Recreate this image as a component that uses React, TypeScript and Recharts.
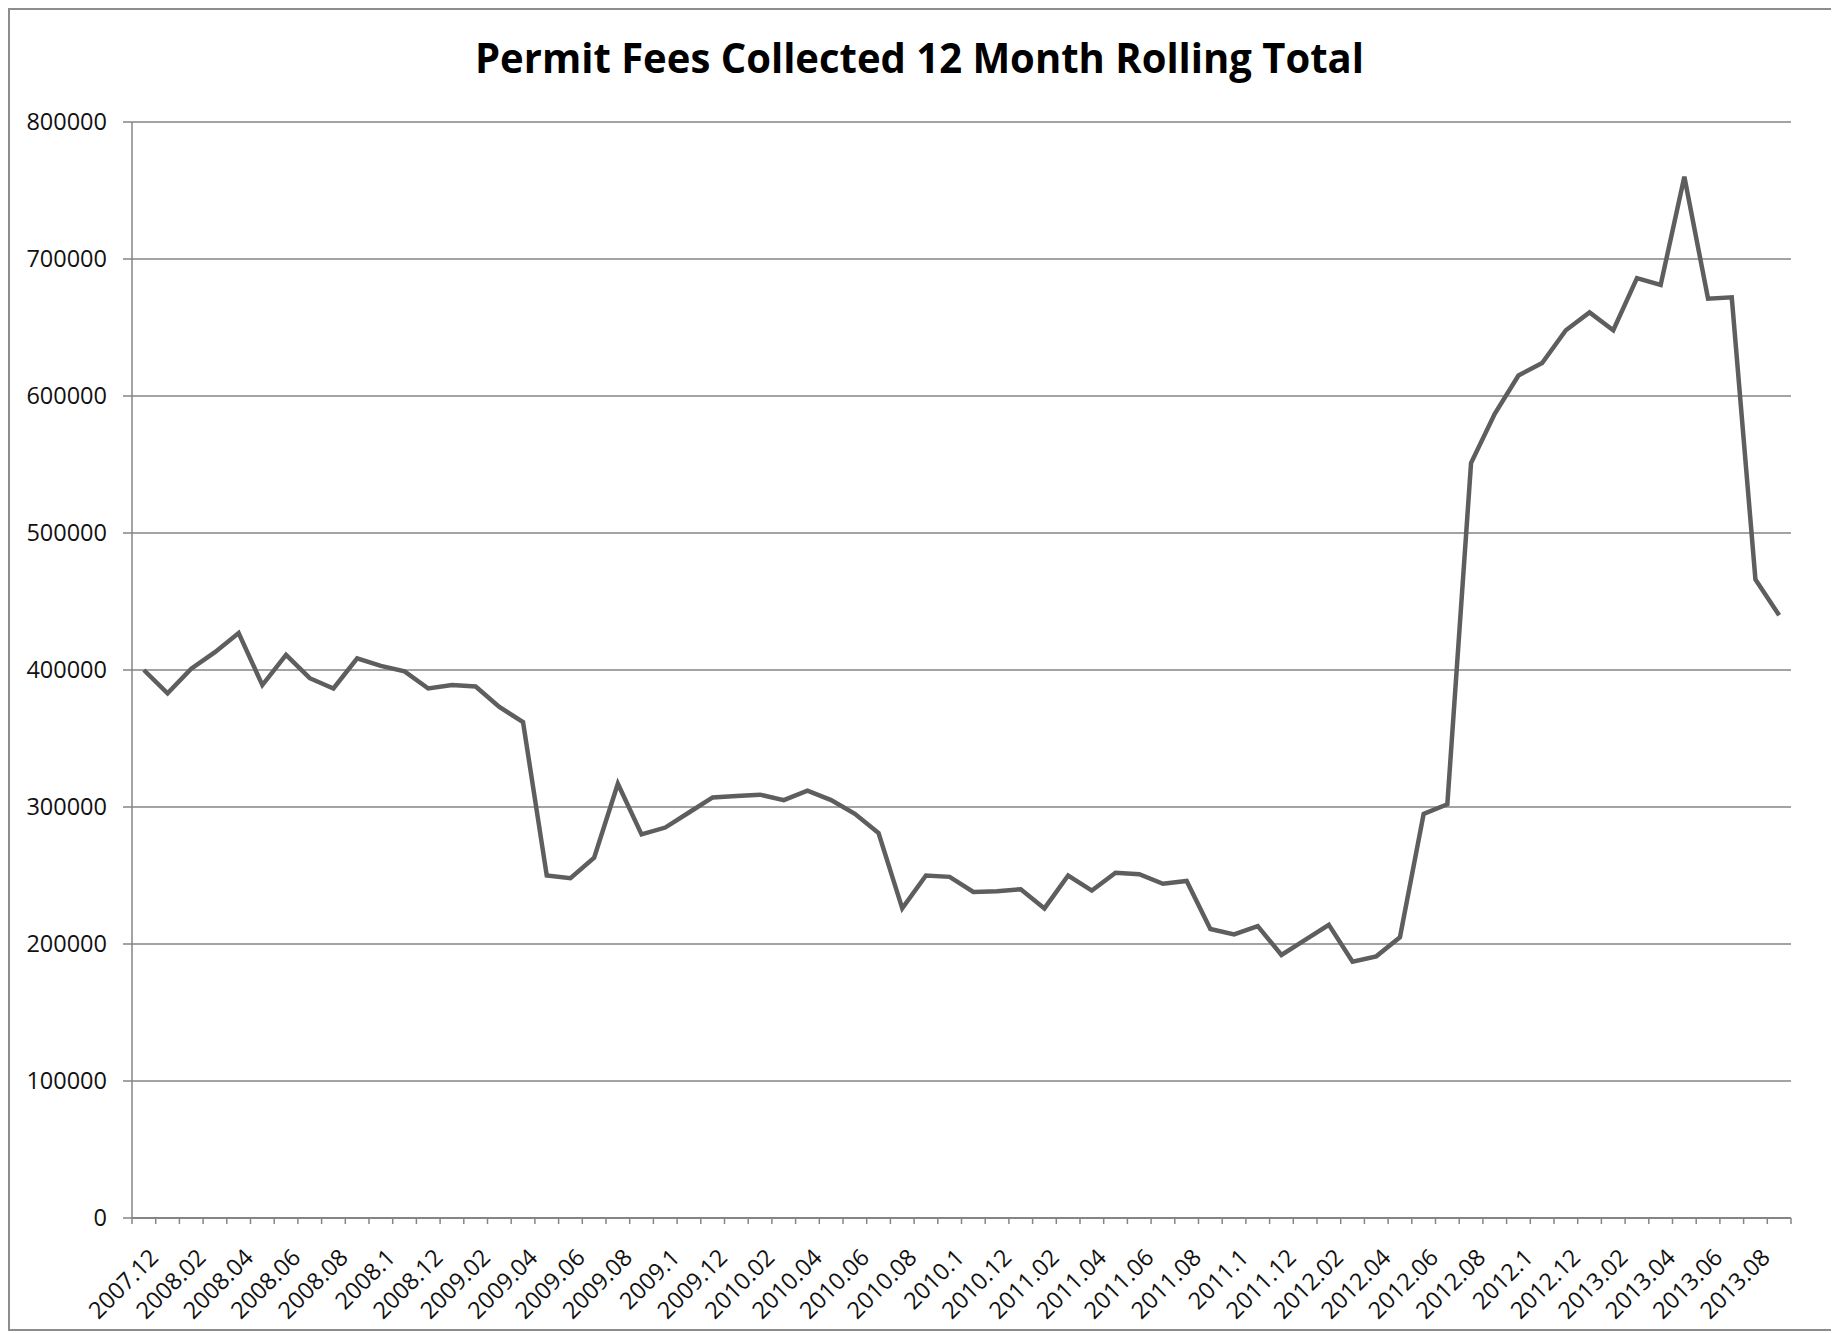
import React from 'react';
import { LineChart, Line, XAxis, YAxis, CartesianGrid } from 'recharts';

const title = 'Permit Fees Collected 12 Month Rolling Total';

const categories = [
  '2007.12',
  '2008.01', '2008.02', '2008.03', '2008.04', '2008.05', '2008.06', '2008.07', '2008.08', '2008.09', '2008.1', '2008.11', '2008.12',
  '2009.01', '2009.02', '2009.03', '2009.04', '2009.05', '2009.06', '2009.07', '2009.08', '2009.09', '2009.1', '2009.11', '2009.12',
  '2010.01', '2010.02', '2010.03', '2010.04', '2010.05', '2010.06', '2010.07', '2010.08', '2010.09', '2010.1', '2010.11', '2010.12',
  '2011.01', '2011.02', '2011.03', '2011.04', '2011.05', '2011.06', '2011.07', '2011.08', '2011.09', '2011.1', '2011.11', '2011.12',
  '2012.01', '2012.02', '2012.03', '2012.04', '2012.05', '2012.06', '2012.07', '2012.08', '2012.09', '2012.1', '2012.11', '2012.12',
  '2013.01', '2013.02', '2013.03', '2013.04', '2013.05', '2013.06', '2013.07', '2013.08', '2013.09',
];

const fees = [
  400000,
  383000, 401000, 413000, 427000, 389000, 411000, 394000, 386500, 408500, 403000, 399000, 386500,
  389000, 388000, 373000, 362000, 250000, 248000, 263000, 317000, 280000, 285000, 296000, 307000,
  308000, 309000, 305000, 312000, 305000, 295000, 281000, 226000, 250000, 249000, 238000, 238500,
  240000, 226000, 250000, 239000, 252000, 251000, 244000, 246000, 211000, 207000, 213000, 192000,
  203000, 214000, 187000, 191000, 205000, 295000, 302000, 551000, 587000, 615000, 624000, 648000,
  661000, 648000, 686000, 681000, 760000, 671000, 672000, 466000, 440000,
];

const yTicks = [0, 100000, 200000, 300000, 400000, 500000, 600000, 700000, 800000];

const data = categories.map((month, i) => ({ month, fees: fees[i] }));

const W = 1821;
const H = 1319;
const margin = { top: 112, right: 40, bottom: 11, left: 22 };
const yAxisWidth = 100;
const xAxisHeight = 100;
const plotWidth = W - margin.left - yAxisWidth - margin.right;
const band = plotWidth / categories.length;
const xTickSize = 6;
const xTickMargin = 0;

const FONT = '"Open Sans", "DejaVu Sans", sans-serif';
const GRID = '#858585';

const XTick = (props: any) => {
  const { x, y, payload } = props;
  const i = payload && payload.index !== undefined ? payload.index : props.index;
  const axisY = y - xTickSize - xTickMargin;
  const half = band / 2;
  return (
    <g>
      <line x1={x - half} x2={x - half} y1={axisY} y2={axisY + xTickSize} stroke={GRID} strokeWidth={1.5} />
      {i === categories.length - 1 && (
        <line x1={x + half} x2={x + half} y1={axisY} y2={axisY + xTickSize} stroke={GRID} strokeWidth={1.5} />
      )}
      {i % 2 === 0 && (
        <text
          transform={`translate(${x + 16},${axisY + 41}) rotate(-45)`}
          textAnchor="end"
          fontFamily={FONT}
          fontSize={23.5}
          fill="#111"
        >
          {payload.value}
        </text>
      )}
    </g>
  );
};

export default function App() {
  return (
    <div
      style={{
        position: 'relative',
        width: W,
        height: H,
        border: '2px solid #8d8d8d',
        background: '#fff',
      }}
    >
      <LineChart width={W} height={H} data={data} margin={margin}>
        <CartesianGrid horizontal={true} vertical={false} stroke={GRID} strokeWidth={1.5} />
        <XAxis
          dataKey="month"
          interval={0}
          height={xAxisHeight}
          padding={{ left: band / 2, right: band / 2 }}
          tickSize={xTickSize}
          tickMargin={xTickMargin}
          tickLine={false}
          axisLine={{ stroke: GRID, strokeWidth: 2 }}
          tick={<XTick />}
        />
        <YAxis
          domain={[0, 800000]}
          ticks={yTicks}
          interval={0}
          width={yAxisWidth}
          tickSize={9}
          tickMargin={16}
          axisLine={{ stroke: GRID, strokeWidth: 1.5 }}
          tickLine={{ stroke: GRID, strokeWidth: 1.5 }}
          tick={{ fontFamily: FONT, fontSize: 23.5, fill: '#111' }}
        />
        <Line
          type="linear"
          dataKey="fees"
          stroke="#5e5e5e"
          strokeWidth={4.5}
          dot={false}
          isAnimationActive={false}
        />
      </LineChart>
      <svg
        width={W}
        height={110}
        style={{ position: 'absolute', left: 0, top: 0, pointerEvents: 'none' }}
      >
        <text
          x={909.5}
          y={62.7}
          textAnchor="middle"
          fontFamily={FONT}
          fontWeight="bold"
          fontSize={41.5}
          textLength={889}
          lengthAdjust="spacingAndGlyphs"
          fill="#000"
        >
          {title}
        </text>
      </svg>
    </div>
  );
}
